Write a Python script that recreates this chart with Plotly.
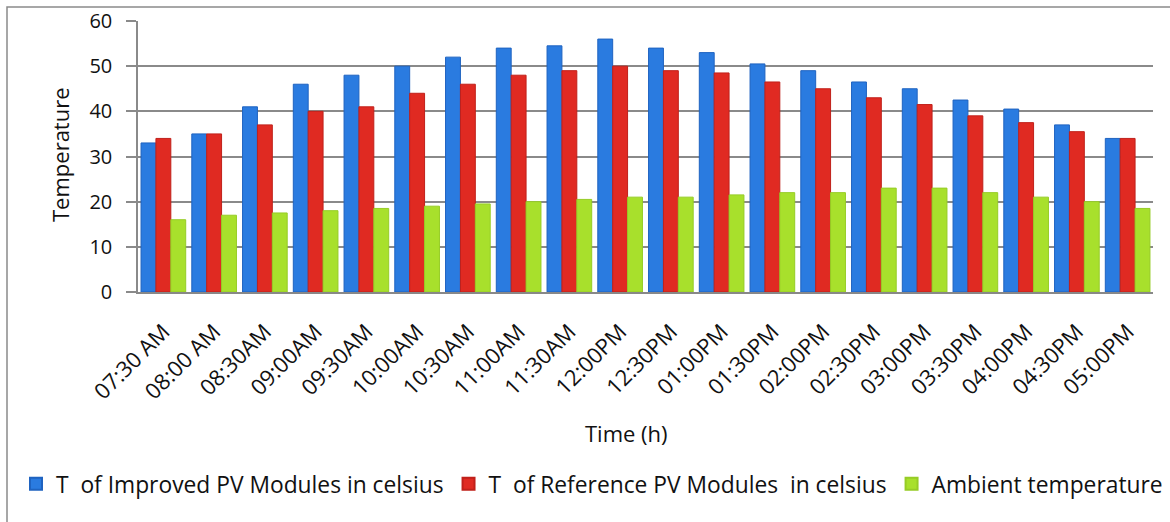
import plotly.graph_objects as go

times = ["07:30 AM", "08:00 AM", "08:30AM", "09:00AM", "09:30AM", "10:00AM", "10:30AM",
         "11:00AM", "11:30AM", "12:00PM", "12:30PM", "01:00PM", "01:30PM", "02:00PM",
         "02:30PM", "03:00PM", "03:30PM", "04:00PM", "04:30PM", "05:00PM"]
improved = [33, 35, 41, 46, 48, 50, 52, 54, 54.5, 56, 54, 53, 50.5, 49, 46.5, 45, 42.5, 40.5, 37, 34]
reference = [34, 35, 37, 40, 41, 44, 46, 48, 49, 50, 49, 48.5, 46.5, 45, 43, 41.5, 39, 37.5, 35.5, 34]
ambient = [16, 17, 17.5, 18, 18.5, 19, 19.5, 20, 20.5, 21, 21, 21.5, 22, 22, 23, 23, 22, 21, 20, 18.5]

names = ["T  of Improved PV Modules in celsius", "T  of Reference PV Modules  in celsius", "Ambient temperature"]
colors = ["#2A7BE0", "#E02A22", "#A8E02C"]
edges = ["#1F63C0", "#C0201A", "#96CC26"]

W, H = 1170, 522
L, R, T, B = 138, 17, 21, 230
pw, ph = W - L - R, H - T - B

def px(x):
    return (x - L) / pw

def py(y):
    return (H - B - y) / ph

fig = go.Figure()
for vals, n, c, e in zip([improved, reference, ambient], names, colors, edges):
    fig.add_trace(go.Bar(x=times, y=vals, name=n, marker=dict(color=c, line=dict(color=e, width=1))))

font = "Open Sans, Lato, sans-serif"
fig.update_layout(
    width=W, height=H,
    margin=dict(l=L, r=R, t=T, b=B),
    paper_bgcolor="white", plot_bgcolor="white",
    barmode="group", bargap=0.12, bargroupgap=0,
    font=dict(family=font, color="#111", size=20),
    showlegend=True,
    legend=dict(orientation="h", x=px(16), xanchor="left", y=py(484), yanchor="middle",
                font=dict(size=22.8), tracegroupgap=0, itemsizing="constant"),
    xaxis=dict(tickangle=-45, tickfont=dict(size=22), showgrid=False, showline=True,
               linecolor="#888", linewidth=2, ticks="", ticklabelstandoff=16, automargin=False),
    yaxis=dict(range=[0, 60], dtick=10, tickfont=dict(size=20), showgrid=True,
               gridcolor="#8a8a8a", gridwidth=1.5, zeroline=False, showline=True,
               linecolor="#8a8a8a", linewidth=1.5,
               ticks="outside", ticklen=10, tickcolor="#8a8a8a", tickwidth=1.5,
               ticklabelstandoff=10, automargin=False),
    annotations=[
        dict(text="Time (h)", x=px(626), y=py(433), xref="paper", yref="paper",
             showarrow=False, font=dict(size=22), xanchor="center", yanchor="middle"),
        dict(text="Temperature", x=px(60), y=py(155), xref="paper", yref="paper",
             showarrow=False, textangle=-90, font=dict(size=22), xanchor="center", yanchor="middle"),
    ],
    shapes=[
        dict(type="rect", xref="paper", yref="paper", x0=px(7), x1=px(1178), y0=py(530), y1=py(7),
             line=dict(color="#8a8a8a", width=1.5), fillcolor="rgba(0,0,0,0)", layer="below"),
    ],
)

fig.write_html("out.html")
